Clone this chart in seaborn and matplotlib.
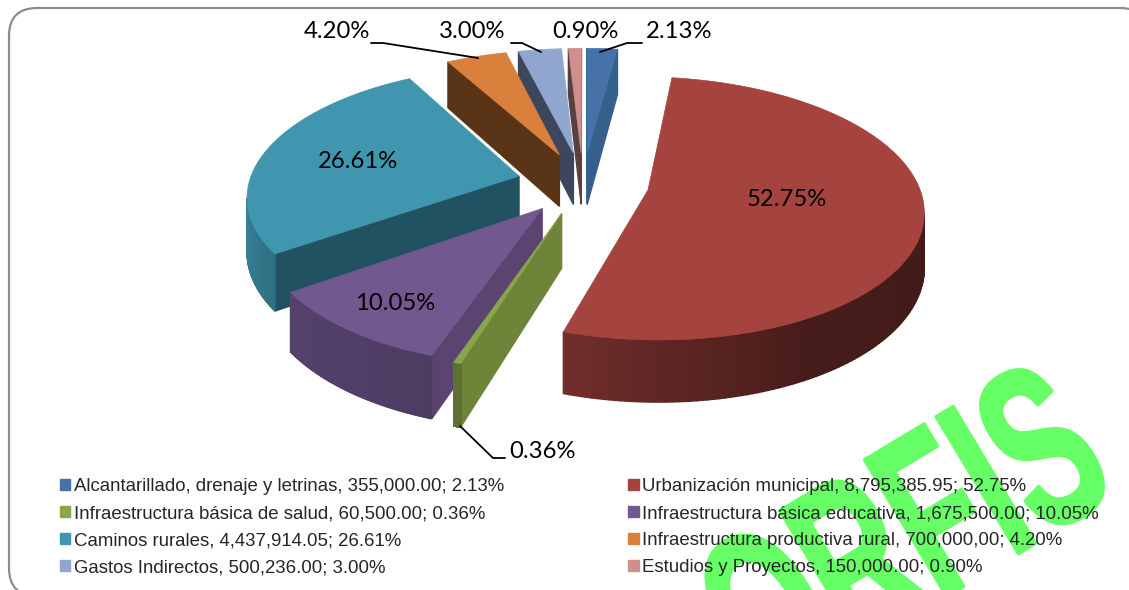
import numpy as np
import matplotlib
matplotlib.use('Agg')
import matplotlib.pyplot as plt
import matplotlib.patheffects as path_effects
from matplotlib.patches import FancyBboxPatch, Patch
from matplotlib.transforms import Affine2D
import seaborn as sns

# data
categories = ['Alcantarillado, drenaje y letrinas', 'Urbanización municipal',
              'Infraestructura básica de salud', 'Infraestructura básica educativa',
              'Caminos rurales', 'Infraestructura productiva rural',
              'Gastos Indirectos', 'Estudios y Proyectos']
amounts = [355000.00, 8795385.95, 60500.00, 1675500.00, 4437914.05, 700000.00, 500236.00, 150000.00]
amount_labels = ['355,000.00', '8,795,385.95', '60,500.00', '1,675,500.00',
                 '4,437,914.05', '700,000,00', '500,236.00', '150,000.00']
pct_labels = ['2.13%', '52.75%', '0.36%', '10.05%', '26.61%', '4.20%', '3.00%', '0.90%']

top_colors = ['#4672A8', '#A5433F', '#8AA64B', '#71588F', '#4096AE', '#D9803C', '#90A6CF', '#CE8F8E']
side_colors = ['#35608C', '#6E2B28', '#6E8539', '#5B4470', '#215261', '#5A3416', '#3D465C', '#58403F']

# pixel layout of the fake 3d view
W, H = 1129, 590
CX, CY = 583, 183
RX, RY = 270, 127
PERSP = 0.14
DEPTH = 53
EXPLODE = 0.245

pct_pos = [(679, 31), (787, 200), (542, 452), (395, 303), (358, 161), (337, 32), (472, 32), (585, 32)]
leaders = [((600, 52), (627, 43), (642, 43)),
           ((460, 426), (493, 458), (505, 458)),
           ((371, 43), (383, 43), (478, 58)),
           ((511, 43), (522, 43), (541, 52))]


class Condensed(path_effects.AbstractPathEffect):
    # squeeze the glyphs along the text direction, no condensed bold font here
    def __init__(self, sx, stroke):
        super().__init__()
        self.sx = sx
        self.stroke = stroke

    def draw_path(self, renderer, gc, tpath, affine, rgbFace=None):
        gc.set_linewidth(self.stroke)
        renderer.draw_path(gc, tpath, Affine2D().scale(self.sx, 1) + affine, rgbFace)


def project(x, y, z=0.0):
    w = 1 + PERSP * y
    return CX + RX * x / w, CY - RY * y / w + z * DEPTH / w


def shade(color, factor):
    return tuple(c * factor for c in matplotlib.colors.to_rgb(color))


def arc_factor(compass):
    return np.interp(compass, [100, 150, 197, 235, 270, 331], [.40, .42, .68, .75, .9, .9])


def draw_wall(ax, a, b, color):
    # going clockwise round the slice, a wall faces us only if it runs to the left
    if project(*b)[0] >= project(*a)[0]:
        return
    pts = [project(*a), project(*b), project(*b, 1), project(*a, 1)]
    ax.fill(*zip(*pts), color=color, lw=1.0, zorder=3)


def draw_slice(ax, wedge, top, side):
    cx, cy = wedge.center
    th = np.radians(np.linspace(wedge.theta2, wedge.theta1, 180))
    rim = np.c_[cx + np.cos(th), cy + np.sin(th)]

    draw_wall(ax, (cx, cy), rim[0], side)
    draw_wall(ax, rim[-1], (cx, cy), side)
    for i in range(len(th) - 1):
        compass = (90 - np.degrees(th[i])) % 360
        draw_wall(ax, rim[i], rim[i + 1], shade(top, arc_factor(compass)))

    X, Y = project(np.r_[cx, rim[:, 0]], np.r_[cy, rim[:, 1]])
    ax.fill(X, Y, color=top, lw=0.5, zorder=4)


def main():
    sns.set_theme(style='white')
    plt.rcParams['font.family'] = ['Liberation Sans', 'DejaVu Sans']

    fig = plt.figure(figsize=(W / 100, H / 100), dpi=100)
    ax = fig.add_axes([0, 0, 1, 1])
    ax.set_xlim(0, W)
    ax.set_ylim(H, 0)
    ax.axis('off')

    # pie only gives the slice angles and exploded centres
    helper = fig.add_axes([0, 0, 0.01, 0.01])
    wedges, _ = helper.pie(amounts, explode=[EXPLODE] * len(amounts), startangle=90, counterclock=False)
    helper.set_visible(False)

    frame = FancyBboxPatch((9, 8), 1139, 588, boxstyle='round,pad=0,rounding_size=28',
                           fc='white', ec='#8C8C8C', lw=1.6, zorder=0)
    ax.add_patch(frame)

    # watermark
    ax.text(763, 707, 'ORFIS', color='#66FF66', fontsize=167, fontweight='bold', rotation=31,
            rotation_mode='anchor', ha='left', va='baseline', zorder=1,
            path_effects=[Condensed(0.59, 2.5)])

    # back slices first
    order = sorted(range(len(wedges)), key=lambda i: -wedges[i].center[1])
    for i in order:
        draw_slice(ax, wedges[i], top_colors[i], side_colors[i])

    for (x, y), txt in zip(pct_pos, pct_labels):
        ax.text(x, y, txt, fontsize=17.2, family=['Lato', 'DejaVu Sans'], color='black',
                ha='center', va='center', zorder=5)
    for pts in leaders:
        ax.plot(*zip(*pts), color='black', lw=1.3, zorder=5)

    # legend is row by row in the picture
    labels = [f'{c}, {a}; {p}' for c, a, p in zip(categories, amount_labels, pct_labels)]
    handles = [Patch(color=c) for c in top_colors]
    leg = ax.legend(handles[0::2] + handles[1::2], labels[0::2] + labels[1::2], ncols=2,
                    loc='upper left', bbox_to_anchor=(60, 478), bbox_transform=ax.transData,
                    frameon=False, fontsize=13.45, borderpad=0, borderaxespad=0,
                    handlelength=0.55, handleheight=0.55, handletextpad=0.2,
                    labelspacing=0.54, columnspacing=6.65)
    leg.set_zorder(6)

    fig.savefig('out.png', dpi=100)
    plt.close(fig)


if __name__ == '__main__':
    main()
